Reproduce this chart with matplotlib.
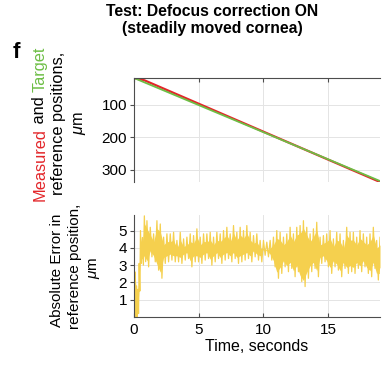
import numpy as np
import matplotlib
matplotlib.use("Agg")
import matplotlib.pyplot as plt

plt.rcParams['font.family'] = ['Liberation Sans', 'DejaVu Sans']
plt.rcParams['mathtext.fontset'] = 'custom'
plt.rcParams['mathtext.it'] = 'Liberation Sans:italic'
plt.rcParams['mathtext.rm'] = 'Liberation Sans'

# ---- data ----
# reference positions (um) vs time (s)
target_time = [0.0, 19.0]
target_pos = [17.0, 335.0]
measured_time = [0.0, 0.3, 0.8, 19.0]
measured_pos = [17.0, 20.0, 24.0, 338.0]

# absolute error, peaks and troughs (um): start-up transient
err_time_start = [0.0, 0.1, 0.2, 0.3, 0.4, 0.5, 0.65, 0.8]
err_upper_start = [2.9, 2.6, 1.8, 1.6, 3.1, 5.0, 4.6, 5.85]
err_lower_start = [1.2, 0.0, 0.0, 0.2, 1.5, 3.1, 3.0, 3.2]

# absolute error, peaks and troughs (um): steady tracking from 1 s to 19 s
err_upper = [5.57, 5.19, 4.81, 5.57, 5.38, 4.62, 4.81, 4.81, 4.90, 4.43,
             4.90, 4.52, 4.62, 4.81, 4.71, 5.10, 4.62, 4.81, 4.81, 4.90,
             4.62, 4.90, 4.81, 5.00, 5.19, 4.81, 5.29, 4.90, 5.19, 5.00,
             5.29, 4.90, 4.71, 4.81, 4.43, 4.43, 4.33, 4.43, 4.62, 5.00,
             4.90, 4.62, 4.81, 5.19, 4.81, 5.19, 5.29, 5.57, 5.19, 4.81,
             5.10, 5.48, 4.62, 4.71, 4.81, 5.00, 4.52, 4.90, 4.81, 4.43,
             5.19, 4.90, 4.90, 4.62, 5.00, 4.81, 4.62, 4.81, 5.19, 4.43,
             4.62]
err_lower = [2.90, 3.48, 3.19, 2.71, 2.24, 3.10, 3.19, 3.29, 3.19, 3.19,
             3.10, 3.29, 3.38, 2.90, 3.19, 3.19, 3.10, 3.29, 3.38, 3.00,
             3.19, 3.38, 3.10, 3.29, 3.38, 3.19, 3.38, 3.10, 3.19, 3.29,
             3.38, 3.19, 3.48, 3.29, 3.19, 3.57, 3.48, 3.29, 2.90, 2.24,
             2.52, 2.90, 2.62, 2.81, 2.33, 2.62, 2.05, 1.76, 2.24, 2.62,
             2.81, 2.33, 3.10, 3.19, 2.90, 2.52, 2.90, 2.71, 2.33, 2.81,
             2.52, 2.62, 2.52, 2.81, 2.62, 2.90, 2.52, 2.33, 2.81, 2.14,
             2.52]

time_ticks = [0, 5, 10, 15]
pos_ticks = [100, 200, 300]
err_ticks = [1, 2, 3, 4, 5]

RED = '#E3262A'
GREEN = '#6DBE45'
YELLOW = '#F5D04E'
AXC = '#4d4d4d'
GRIDC = '#e4e4e4'
FS = 11

peak_time = np.concatenate([err_time_start,
                            np.linspace(1.0, 19.0, len(err_upper))])
peaks = np.concatenate([err_upper_start, err_upper])
troughs = np.concatenate([err_lower_start, err_lower])
# trace alternates peak -> trough between successive peak times
trough_time = np.append((peak_time[:-1] + peak_time[1:]) / 2, peak_time[-1])
trace_t = np.column_stack([peak_time, trough_time]).ravel()
trace_v = np.column_stack([peaks, troughs]).ravel()
# dense inner body of the trace
core_lo = np.minimum(troughs + 0.35, peaks)
core_hi = np.maximum(peaks - 0.45, troughs)

W, H = 382, 372
fig = plt.figure(figsize=(W / 100, H / 100), dpi=100)


def box(l, t, r, b):
    return [l / W, 1 - b / H, (r - l) / W, (b - t) / H]


def style(ax):
    ax.grid(True, color=GRIDC, lw=0.7)
    ax.set_axisbelow(True)
    ax.tick_params(axis='y', direction='out', length=3, width=0.8,
                   color=AXC, labelsize=FS, pad=2)
    ax.tick_params(axis='x', direction='in', length=3, width=0.8,
                   color=AXC, labelsize=FS, pad=4)
    for s in ax.spines.values():
        s.set_color(AXC)
        s.set_linewidth(0.8)


# ---- top: positions ----
ax1 = fig.add_axes(box(134, 78, 380, 182))
ax1.plot(measured_time, measured_pos, color=RED, lw=1.6, solid_capstyle='butt')
ax1.plot(target_time, target_pos, color=GREEN, lw=1.3, solid_capstyle='butt')
ax1.set_xlim(0, 19)
ax1.set_ylim(338, 17)
ax1.set_xticks(time_ticks)
ax1.set_yticks(pos_ticks)
ax1.xaxis.tick_top()
ax1.tick_params(axis='x', labeltop=False)
style(ax1)
ax1.spines['bottom'].set_visible(False)
ax1.spines['right'].set_visible(False)

# ---- bottom: absolute error ----
ax2 = fig.add_axes(box(134, 215, 380, 317))
ax2.fill_between(peak_time, core_lo, core_hi, color=YELLOW, lw=0)
ax2.plot(trace_t, trace_v, color=YELLOW, lw=0.9)
ax2.set_xlim(0, 19)
ax2.set_ylim(0, 5.9)
ax2.set_xticks(time_ticks)
ax2.set_yticks(err_ticks)
style(ax2)
ax2.spines['top'].set_visible(False)
ax2.spines['right'].set_visible(False)
ax2.set_xlabel('Time, seconds', fontsize=FS + 0.5, labelpad=2)

# ---- titles and labels ----
fig.text(212 / W, 1 - 11 / H, 'Test: Defocus correction ON', ha='center',
         va='center', fontsize=11.3, fontweight='bold')
fig.text(212 / W, 1 - 29 / H, '(steadily moved cornea)', ha='center',
         va='center', fontsize=11.3, fontweight='bold')
fig.text(16 / W, 1 - 52 / H, 'f', ha='center', va='center', fontsize=16,
         fontweight='bold')

# multicoloured rotated first line of the top y label
fig.canvas.draw()
renderer = fig.canvas.get_renderer()
y_px = 201
for word, col in [('Measured', RED), (' and ', 'black'), ('Target', GREEN)]:
    t = fig.text(40 / W, 1 - y_px / H, word, rotation=90, ha='center',
                 va='bottom', fontsize=11.8, color=col)
    ext = t.get_window_extent(renderer)
    y_px -= ext.height

fig.text(59 / W, 1 - 123 / H, 'reference positions,', rotation=90,
         ha='center', va='center', fontsize=11.8)
fig.text(80 / W, 1 - 123 / H, r'$\mu$m', rotation=90, ha='center',
         va='center', fontsize=11.8)

fig.text(57 / W, 1 - 270 / H, 'Absolute Error in', rotation=90,
         ha='center', va='center', fontsize=FS)
fig.text(75 / W, 1 - 266 / H, 'reference position,', rotation=90,
         ha='center', va='center', fontsize=FS)
fig.text(94 / W, 1 - 268 / H, r'$\mu$m', rotation=90, ha='center',
         va='center', fontsize=FS)

fig.savefig('out.png', dpi=100)
